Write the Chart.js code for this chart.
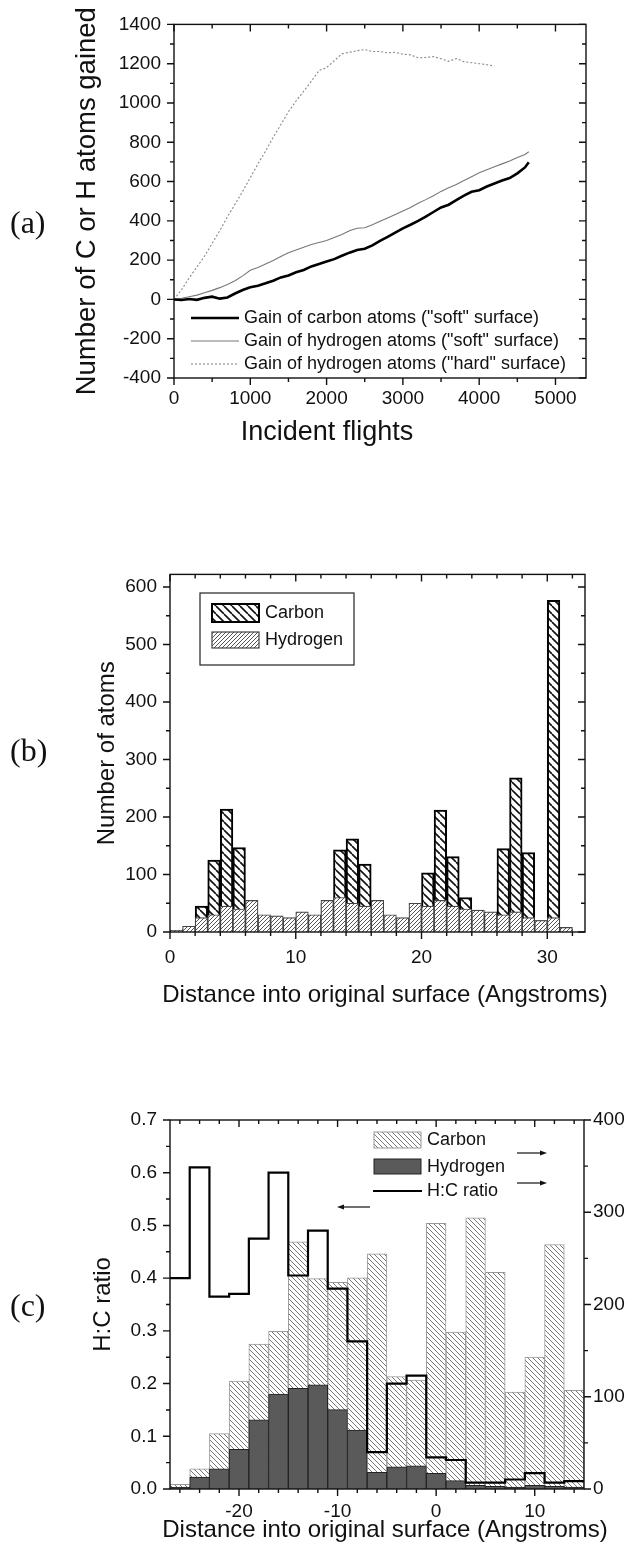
<!DOCTYPE html>
<html>
<head>
<meta charset="utf-8">
<script src="https://cdn.jsdelivr.net/npm/chart.js@4.4.1/dist/chart.umd.min.js"></script>
<style>
  body { margin: 0; background: #fff; width: 636px; height: 1555px; position: relative; overflow: hidden; }
  canvas { position: absolute; left: 0; }
  .lbl { position: absolute; left: 10px; font-family: "Liberation Serif", "Times New Roman", serif; font-size: 32px; line-height: 36px; color: #111; }
</style>
</head>
<body>
<canvas id="ca" width="636" height="550" style="top:0"></canvas>
<canvas id="cb" width="636" height="470" style="top:550px"></canvas>
<canvas id="cc" width="636" height="535" style="top:1020px"></canvas>
<div class="lbl" style="top:204px">(a)</div>
<div class="lbl" style="top:732px">(b)</div>
<div class="lbl" style="top:1287px">(c)</div>
<script>
// ---- panel (a): atoms gained vs incident flights ----
const flightsC = [0,100,200,300,400,500,600,700,800,900,1000,1100,1200,1300,1400,1500,1600,1700,1800,1900,2000,2100,2200,2300,2400,2500,2600,2700,2800,2900,3000,3100,3200,3300,3400,3500,3600,3700,3800,3900,4000,4100,4200,4300,4400,4500,4600,4650];
const gainCarbonSoft = [0,-3,2,-2,8,14,4,10,30,48,62,70,82,95,112,122,138,150,168,180,193,205,222,238,252,258,275,298,318,340,362,380,400,422,445,468,482,505,528,548,556,575,590,605,618,642,672,698];
const flightsH = [0,100,200,300,400,500,600,700,800,900,1000,1100,1200,1300,1400,1500,1600,1700,1800,1900,2000,2100,2200,2300,2400,2500,2600,2700,2800,2900,3000,3100,3200,3300,3400,3500,3600,3700,3800,3900,4000,4100,4200,4300,4400,4500,4600,4650];
const gainHydrogenSoft = [0,6,14,22,34,46,60,76,95,120,148,162,180,198,218,238,252,266,280,290,300,315,330,350,362,365,380,398,415,432,450,468,490,508,528,550,568,585,605,625,645,660,675,690,705,722,738,752];
const flightsHard = [0,100,200,300,400,500,600,700,800,900,1000,1100,1200,1300,1400,1500,1600,1700,1800,1900,2000,2100,2200,2300,2400,2500,2600,2700,2800,2900,3000,3100,3200,3300,3400,3500,3600,3700,3800,3900,4000,4100,4200];
const gainHydrogenHard = [0,50,110,165,220,285,350,420,485,550,620,690,755,825,890,955,1010,1060,1110,1165,1180,1215,1250,1258,1266,1272,1262,1262,1255,1258,1248,1245,1230,1232,1236,1225,1212,1226,1210,1205,1200,1195,1188];
const flightTicks = [0,1000,2000,3000,4000,5000];

// ---- panel (b): depth histogram, 1 A bins (left edges) ----
const depthB = [0,1,2,3,4,5,6,7,8,9,10,11,12,13,14,15,16,17,18,19,20,21,22,23,24,25,26,27,28,29,30,31,32];
const carbonB = [0,5,45,125,214,147,20,10,8,10,12,20,50,143,162,118,40,15,10,20,103,212,131,60,30,30,145,268,138,20,577,5,0];
const hydrogenB = [3,10,25,30,45,40,55,30,28,25,35,30,55,60,50,45,55,30,25,50,45,55,45,40,38,35,30,35,25,20,25,8,0];

// ---- panel (c): depth histogram, 2 A bins (centres) ----
const depthC = [-26,-24,-22,-20,-18,-16,-14,-12,-10,-8,-6,-4,-2,0,2,4,6,8,10,12,14];
const carbonC = [5,22,60,117,157,171,268,228,224,229,255,122,118,288,170,294,235,105,143,265,107];
const hydrogenC = [2,13,22,43,75,103,109,113,86,64,18,24,25,17,9,4,3,2,4,3,2];
const ratioHC = [0.40,0.61,0.365,0.37,0.475,0.60,0.405,0.49,0.38,0.28,0.07,0.20,0.215,0.06,0.055,0.012,0.012,0.018,0.03,0.012,0.015];

const FONT = '"Liberation Sans", Arial, sans-serif';
Chart.defaults.font.family = FONT;
Chart.defaults.color = '#111';

function hatch(ctx, size, dir, color, lw) {
  const c = document.createElement('canvas');
  c.width = size; c.height = size;
  const g = c.getContext('2d');
  g.fillStyle = '#fff';
  g.fillRect(0, 0, size, size);
  g.strokeStyle = color;
  g.lineWidth = lw;
  g.beginPath();
  for (let k = -1; k <= 1; k++) {
    if (dir === '/') { g.moveTo(k * size, size); g.lineTo(k * size + size, 0); }
    else { g.moveTo(k * size, 0); g.lineTo(k * size + size, size); }
  }
  g.stroke();
  return ctx.createPattern(c, 'repeat');
}

// frame box plus major/minor ticks (out on bottom/left, in on top/right)
const frameTicks = {
  id: 'frameTicks',
  afterDraw(chart, args, o) {
    const { ctx, chartArea: a } = chart;
    const each = (scale, major, minor, fn) => {
      for (let i = Math.ceil(scale.min / minor - 1e-6); i * minor <= scale.max + 1e-6; i++) {
        const v = i * minor;
        const isMajor = Math.abs(v / major - Math.round(v / major)) < 1e-6;
        fn(scale.getPixelForValue(v), isMajor ? 7 : 4);
      }
    };
    ctx.save();
    ctx.strokeStyle = '#111';
    ctx.lineWidth = 1.4;
    ctx.strokeRect(a.left, a.top, a.right - a.left, a.bottom - a.top);
    ctx.beginPath();
    each(chart.scales.x, o.x[0], o.x[1], (p, len) => {
      ctx.moveTo(p, a.bottom); ctx.lineTo(p, a.bottom + len);
      ctx.moveTo(p, a.top); ctx.lineTo(p, a.top + len);
    });
    each(chart.scales.y, o.y[0], o.y[1], (p, len) => {
      ctx.moveTo(a.left - len, p); ctx.lineTo(a.left, p);
      if (!o.y2) { ctx.moveTo(a.right, p); ctx.lineTo(a.right - len, p); }
    });
    if (o.y2) {
      each(chart.scales.y2, o.y2[0], o.y2[1], (p, len) => {
        ctx.moveTo(a.right, p); ctx.lineTo(a.right + len, p);
      });
    }
    ctx.stroke();
    ctx.restore();
  }
};

function text(ctx, s, x, y, size, align) {
  ctx.font = size + 'px ' + FONT;
  ctx.fillStyle = '#111';
  ctx.textAlign = align || 'left';
  ctx.textBaseline = 'middle';
  ctx.fillText(s, x, y);
}

function arrow(ctx, x1, x2, y) {
  const d = x2 > x1 ? 1 : -1;
  ctx.save();
  ctx.strokeStyle = '#111';
  ctx.fillStyle = '#111';
  ctx.lineWidth = 1.2;
  ctx.beginPath();
  ctx.moveTo(x1, y); ctx.lineTo(x2 - d * 5, y);
  ctx.stroke();
  ctx.beginPath();
  ctx.moveTo(x2, y); ctx.lineTo(x2 - d * 7, y - 2.5); ctx.lineTo(x2 - d * 7, y + 2.5);
  ctx.closePath();
  ctx.fill();
  ctx.restore();
}

const tickFont = { size: 19 };
const xy = (xs, ys) => xs.map((x, i) => ({ x: x, y: ys[i] }));
const plain = v => String(v);

// ---------- (a) ----------
const decoA = {
  id: 'decoA',
  afterDraw(chart) {
    const ctx = chart.ctx;
    chart.data.datasets.forEach((ds, i) => {
      const y = 318 + i * 23;
      ctx.save();
      ctx.strokeStyle = ds.borderColor;
      ctx.lineWidth = ds.borderWidth;
      ctx.setLineDash(ds.borderDash || []);
      ctx.beginPath();
      ctx.moveTo(191, y); ctx.lineTo(239, y);
      ctx.stroke();
      ctx.restore();
      text(ctx, ds.label, 244, y, 18);
    });
    text(ctx, 'Incident flights', 327, 433, 27, 'center');
  }
};

new Chart(document.getElementById('ca'), {
  type: 'line',
  data: {
    datasets: [
      { label: 'Gain of carbon atoms ("soft" surface)', data: xy(flightsC, gainCarbonSoft),
        borderColor: '#000', borderWidth: 2.6, pointRadius: 0 },
      { label: 'Gain of hydrogen atoms ("soft" surface)', data: xy(flightsH, gainHydrogenSoft),
        borderColor: '#777', borderWidth: 1.1, pointRadius: 0 },
      { label: 'Gain of hydrogen atoms ("hard" surface)', data: xy(flightsHard, gainHydrogenHard),
        borderColor: '#888', borderWidth: 1.1, borderDash: [2, 2], pointRadius: 0 }
    ]
  },
  options: {
    responsive: false,
    animation: false,
    layout: { padding: { left: 0, right: 50, top: 17, bottom: 0 } },
    plugins: { legend: { display: false }, tooltip: { enabled: false },
      frameTicks: { x: [1000, 500], y: [200, 100] } },
    scales: {
      x: { type: 'linear', min: 0, max: 5400, offset: false,
        grid: { display: false, drawTicks: false }, border: { display: false },
        ticks: { padding: 9, maxRotation: 0, font: tickFont, callback: plain },
        afterBuildTicks: s => { s.ticks = flightTicks.map(v => ({ value: v })); },
        afterFit: s => { s.height = 172; } },
      y: { min: -400, max: 1400,
        grid: { display: false, drawTicks: false }, border: { display: false },
        ticks: { stepSize: 200, includeBounds: false, padding: 13, font: tickFont, callback: plain },
        title: { display: true, text: 'Number of C or H atoms gained', font: { size: 27.5 }, padding: { top: 71 } },
        afterFit: s => { s.width = 174; } }
    }
  },
  plugins: [frameTicks, decoA]
});

// ---------- (b) ----------
const ctxB = document.getElementById('cb').getContext('2d');
const hatchCarbonB = hatch(ctxB, 8, '\\', '#111', 1.6);
const hatchHydrogenB = hatch(ctxB, 4, '/', '#555', 1);

const decoB = {
  id: 'decoB',
  afterDraw(chart) {
    const ctx = chart.ctx;
    ctx.save();
    ctx.strokeStyle = '#222';
    ctx.lineWidth = 1.2;
    ctx.strokeRect(200, 43, 154, 72);
    ctx.fillStyle = hatchCarbonB;
    ctx.fillRect(212, 54, 47, 18);
    ctx.lineWidth = 2;
    ctx.strokeStyle = '#000';
    ctx.strokeRect(212, 54, 47, 18);
    ctx.fillStyle = hatchHydrogenB;
    ctx.fillRect(212, 82, 47, 16);
    ctx.lineWidth = 1.2;
    ctx.strokeStyle = '#444';
    ctx.strokeRect(212, 82, 47, 16);
    ctx.restore();
    text(ctx, 'Carbon', 265, 63, 18);
    text(ctx, 'Hydrogen', 265, 90, 18);
    text(ctx, 'Distance into original surface (Angstroms)', 385, 445, 24, 'center');
  }
};

new Chart(ctxB, {
  type: 'bar',
  data: {
    datasets: [
      { label: 'Carbon', data: xy(depthB.map(d => d + 0.5), carbonB),
        backgroundColor: hatchCarbonB, borderColor: '#000', borderWidth: 2, order: 2 },
      { label: 'Hydrogen', data: xy(depthB.map(d => d + 0.5), hydrogenB),
        backgroundColor: hatchHydrogenB, borderColor: '#444', borderWidth: 1.2, order: 1 }
    ]
  },
  options: {
    responsive: false,
    animation: false,
    datasets: { bar: { barPercentage: 1, categoryPercentage: 1, grouped: false } },
    layout: { padding: { left: 0, right: 51, top: 13, bottom: 0 } },
    plugins: { legend: { display: false }, tooltip: { enabled: false },
      frameTicks: { x: [10, 2], y: [100, 50] } },
    scales: {
      x: { type: 'linear', min: 0, max: 33, offset: false,
        grid: { display: false, drawTicks: false }, border: { display: false },
        ticks: { stepSize: 10, includeBounds: false, padding: 14, maxRotation: 0, font: tickFont, callback: plain },
        afterFit: s => { s.height = 88; } },
      y: { min: 0, max: 622,
        grid: { display: false, drawTicks: false }, border: { display: false },
        ticks: { stepSize: 100, includeBounds: false, padding: 13, font: tickFont, callback: plain },
        title: { display: true, text: 'Number of atoms', font: { size: 24 }, padding: { top: 93 } },
        afterFit: s => { s.width = 170; } }
    }
  },
  plugins: [frameTicks, decoB]
});

// ---------- (c) ----------
const ctxC = document.getElementById('cc').getContext('2d');
const hatchCarbonC = hatch(ctxC, 5, '\\', '#777', 1);

const ratioPts = depthC.map((d, i) => ({ x: d - 1, y: ratioHC[i] }));
ratioPts.push({ x: depthC[depthC.length - 1] + 1, y: ratioHC[ratioHC.length - 1] });

const decoC = {
  id: 'decoC',
  afterDraw(chart) {
    const ctx = chart.ctx;
    ctx.save();
    ctx.fillStyle = hatchCarbonC;
    ctx.fillRect(374, 112, 47, 16);
    ctx.strokeStyle = '#999';
    ctx.lineWidth = 1;
    ctx.strokeRect(374, 112, 47, 16);
    ctx.fillStyle = '#5a5a5a';
    ctx.fillRect(374, 139, 47, 15);
    ctx.strokeStyle = '#222';
    ctx.strokeRect(374, 139, 47, 15);
    ctx.strokeStyle = '#000';
    ctx.lineWidth = 2;
    ctx.beginPath();
    ctx.moveTo(373, 171); ctx.lineTo(422, 171);
    ctx.stroke();
    ctx.restore();
    text(ctx, 'Carbon', 427, 120, 18);
    text(ctx, 'Hydrogen', 427, 147, 18);
    text(ctx, 'H:C ratio', 427, 171, 18);
    arrow(ctx, 517, 547, 133);
    arrow(ctx, 517, 547, 163);
    arrow(ctx, 370, 337, 187);
    text(ctx, 'Distance into original surface (Angstroms)', 385, 510, 24, 'center');
  }
};

new Chart(ctxC, {
  type: 'bar',
  data: {
    datasets: [
      { type: 'line', label: 'H:C ratio', data: ratioPts, yAxisID: 'y', stepped: 'before',
        borderColor: '#000', borderWidth: 2.2, pointRadius: 0, order: 0 },
      { label: 'Hydrogen', data: xy(depthC, hydrogenC), yAxisID: 'y2',
        backgroundColor: '#5a5a5a', borderColor: '#222', borderWidth: 1, order: 1 },
      { label: 'Carbon', data: xy(depthC, carbonC), yAxisID: 'y2',
        backgroundColor: hatchCarbonC, borderColor: '#999', borderWidth: 1, order: 2 }
    ]
  },
  options: {
    responsive: false,
    animation: false,
    datasets: { bar: { barPercentage: 1, categoryPercentage: 1, grouped: false } },
    layout: { padding: { left: 0, right: 0, top: 100, bottom: 0 } },
    plugins: { legend: { display: false }, tooltip: { enabled: false },
      frameTicks: { x: [10, 2], y: [0.1, 0.05], y2: [100, 50] } },
    scales: {
      x: { type: 'linear', min: -27, max: 15, offset: false,
        grid: { display: false, drawTicks: false }, border: { display: false },
        ticks: { stepSize: 10, includeBounds: false, padding: 11, maxRotation: 0, font: tickFont, callback: plain },
        afterFit: s => { s.height = 66; } },
      y: { min: 0, max: 0.7, position: 'left',
        grid: { display: false, drawTicks: false }, border: { display: false },
        ticks: { stepSize: 0.1, includeBounds: false, padding: 13, font: tickFont, callback: v => v.toFixed(1) },
        title: { display: true, text: 'H:C ratio', font: { size: 24 }, padding: { top: 89 } },
        afterFit: s => { s.width = 170; } },
      y2: { min: 0, max: 400, position: 'right',
        grid: { display: false, drawTicks: false }, border: { display: false },
        ticks: { stepSize: 100, includeBounds: false, padding: 9, font: tickFont, callback: plain },
        afterFit: s => { s.width = 52; } }
    }
  },
  plugins: [frameTicks, decoC]
});
</script>
</body>
</html>
